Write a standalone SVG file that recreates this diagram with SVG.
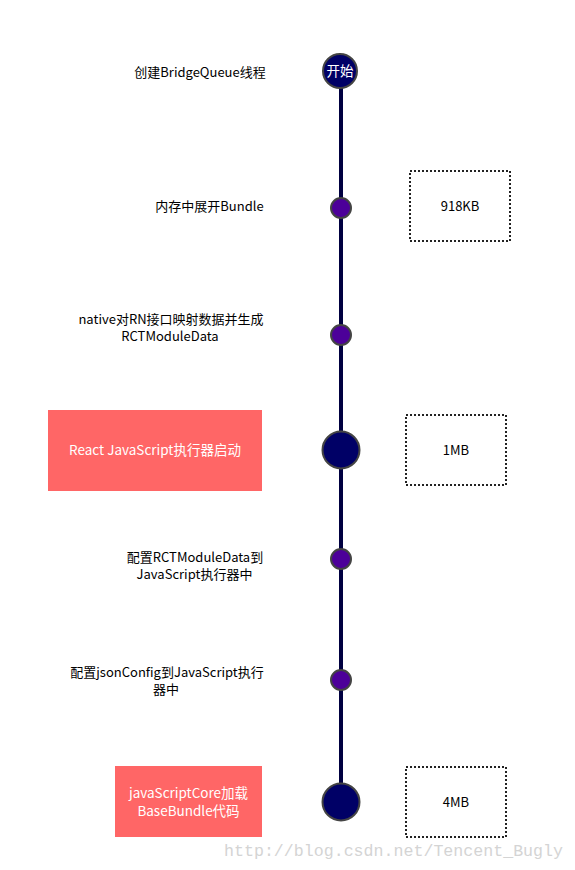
<svg xmlns="http://www.w3.org/2000/svg" width="575" height="870" viewBox="0 0 575 870">
<style>
.lbl{font-family:"Noto Sans CJK SC","Open Sans",sans-serif;font-size:13px;fill:#000;text-anchor:middle}
.wl{font-family:"Noto Sans CJK SC","Open Sans",sans-serif;font-size:13.5px;fill:#fff;text-anchor:middle}
.size{fill:#fff;stroke:#222;stroke-width:2;stroke-dasharray:2 2}
.red{fill:#ff6666}
.small{fill:#4c0099;stroke:#444;stroke-width:2}
.big{fill:#000066;stroke:#444;stroke-width:2}
.wm{font-family:"Liberation Mono",monospace;font-size:16.6px;fill:#d4d4d4}
</style>
<rect width="575" height="870" fill="#fff"/>
<g id="connectors">
<line x1="341" y1="72" x2="341" y2="802" stroke="#000040" stroke-width="4"/>
</g>
<g id="start">
<circle cx="340" cy="71" r="17" class="big"/>
<text x="340" y="76" class="wl">开始</text>
</g>
<g id="step1"><text x="200" y="77" class="lbl">创建BridgeQueue线程</text></g>
<g id="step2">
<circle cx="341" cy="208" r="10" class="small"/>
<text x="209.5" y="211" class="lbl">内存中展开Bundle</text>
</g>
<g id="size1"><rect x="410" y="171" width="100" height="70" class="size"/><text x="460" y="211" class="lbl">918KB</text></g>
<g id="step3">
<circle cx="341" cy="335" r="10" class="small"/>
<text x="171" y="324" class="lbl">native对RN接口映射数据并生成</text>
<text x="170" y="341" class="lbl">RCTModuleData</text>
</g>
<g id="step4">
<rect x="48" y="410" width="214" height="81" class="red"/>
<text x="155" y="455" class="wl">React JavaScript执行器启动</text>
<circle cx="341" cy="450" r="18.5" class="big"/>
</g>
<g id="size2"><rect x="406" y="415" width="100" height="70" class="size"/><text x="456" y="455" class="lbl">1MB</text></g>
<g id="step5">
<circle cx="341" cy="559" r="10" class="small"/>
<text x="195" y="562" class="lbl">配置RCTModuleData到</text>
<text x="194.5" y="579" class="lbl">JavaScript执行器中</text>
</g>
<g id="step6">
<circle cx="341" cy="680" r="10" class="small"/>
<text x="167" y="677" class="lbl">配置jsonConfig到JavaScript执行</text>
<text x="166" y="694" class="lbl">器中</text>
</g>
<g id="step7">
<rect x="115" y="766" width="147" height="71" class="red"/>
<text x="188.5" y="798" class="wl">javaScriptCore加载</text>
<text x="188.5" y="816" class="wl">BaseBundle代码</text>
<circle cx="341" cy="802" r="18.5" class="big"/>
</g>
<g id="size3"><rect x="406" y="767" width="100" height="70" class="size"/><text x="456" y="807" class="lbl">4MB</text></g>
<text x="224" y="856" class="wm" textLength="339" lengthAdjust="spacingAndGlyphs">http://blog.csdn.net/Tencent_Bugly</text>
</svg>
